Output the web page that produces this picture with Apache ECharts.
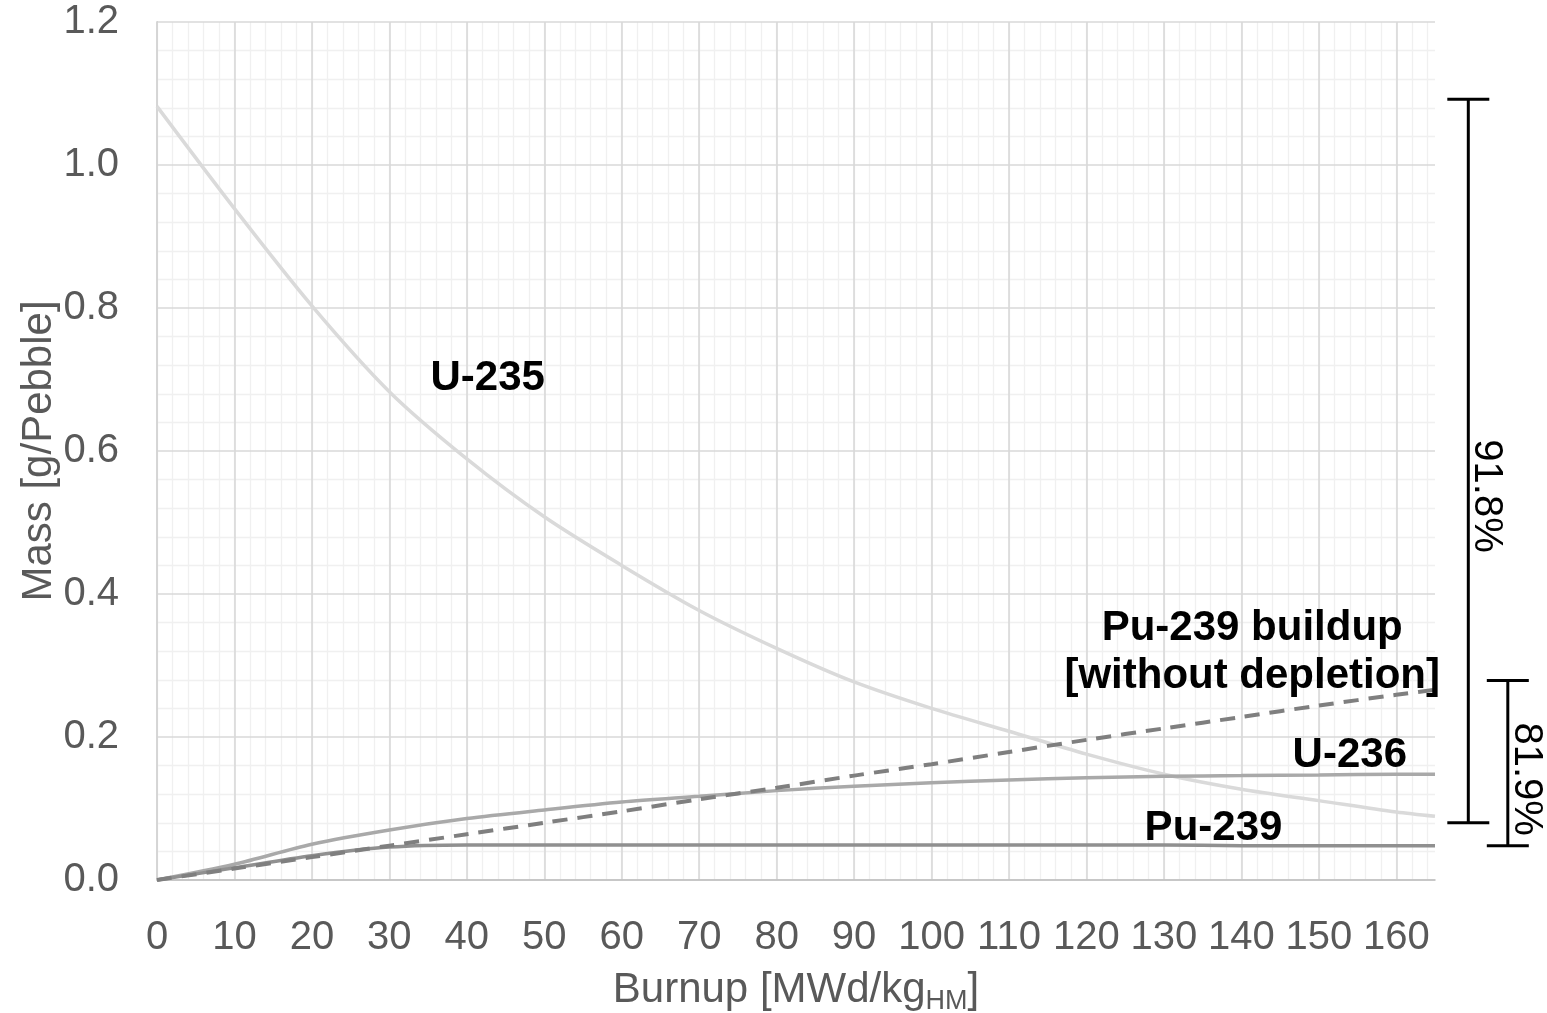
<!DOCTYPE html>
<html>
<head>
<meta charset="utf-8">
<script src="https://cdn.jsdelivr.net/npm/echarts@6/dist/echarts.min.js"></script>
<style>
  html, body { margin: 0; padding: 0; background: #fff; }
  #chart { width: 1547px; height: 1013px; }
</style>
</head>
<body>
<div id="chart"></div>
<script>
// 燃耗 [MWd/kgHM]
const burnup = [0, 10, 20, 30, 40, 50, 60, 70, 80, 90, 100, 110, 120, 130, 140, 150, 160, 165];
// 质量 [g/Pebble]
const u235 = [1.082, 0.939, 0.803, 0.683, 0.589, 0.508, 0.440, 0.377, 0.324, 0.277, 0.240, 0.208, 0.176, 0.148, 0.127, 0.111, 0.095, 0.089];
const u236 = [0, 0.022, 0.050, 0.070, 0.086, 0.098, 0.109, 0.117, 0.125, 0.131, 0.136, 0.140, 0.143, 0.145, 0.146, 0.147, 0.148, 0.148];
const pu239 = [0, 0.017, 0.034, 0.046, 0.049, 0.049, 0.049, 0.049, 0.049, 0.049, 0.049, 0.049, 0.049, 0.049, 0.048, 0.048, 0.048, 0.048];
const pu239Buildup = [0, 0.016, 0.032, 0.048, 0.064, 0.080, 0.096, 0.113, 0.129, 0.146, 0.162, 0.179, 0.196, 0.212, 0.228, 0.244, 0.259, 0.266];

// 曲线标注
const noteText = ['U-235', 'Pu-239 buildup', '[without depletion]', 'U-236', 'Pu-239'];
const noteX = [42.7, 141.4, 141.4, 154.0, 136.4];
const noteY = [0.702, 0.352, 0.285, 0.174, 0.072];

// 右侧括号 (减少百分比)
const bracketText = ['91.8%', '81.9%'];
const bracketX = [169.3, 174.4];
const bracketTop = [1.092, 0.279];
const bracketBottom = [0.080, 0.048];
const bracketLabelY = [0.537, 0.141];

const FONT = "'Liberation Sans', Arial, sans-serif";
const pairs = (ys) => burnup.map((x, i) => [x, ys[i]]);

const chart = echarts.init(document.getElementById('chart'));

const lineSeries = (name, ys, color, type, width) => ({
    name,
    type: 'line',
    data: pairs(ys),
    smooth: 0.3,
    showSymbol: false,
    symbol: 'none',
    silent: true,
    lineStyle: { color, width: width || 3.5, type: type || 'solid' }
});

const option = {
    animation: false,
    backgroundColor: '#fff',
    grid: {
        left: 157,
        right: 112,
        top: 22,
        bottom: 133,
        containLabel: false,
        outerBoundsMode: 'none'
    },
    xAxis: [
        {
            type: 'value',
            min: 0,
            max: 165,
            interval: 10,
            z: 1.5,
            axisLine: { show: true, onZero: false, lineStyle: { color: '#bfbfbf', width: 1.6 } },
            axisTick: { show: false },
            axisLabel: { color: '#595959', fontSize: 40, fontFamily: FONT, margin: 38, showMaxLabel: false },
            splitLine: { show: true, showMaxLine: false, lineStyle: { color: '#d9d9d9', width: 1.6 } },
            name: 'Burnup [MWd/kg{sub|HM}]',
            nameLocation: 'middle',
            nameGap: 86,
            nameTextStyle: {
                color: '#595959',
                fontSize: 42,
                fontFamily: FONT,
                rich: {
                    sub: { fontSize: 27, fontFamily: FONT, color: '#595959', verticalAlign: 'bottom', padding: [22, 0, 0, 0] }
                }
            }
        },
        {
            // 次网格线
            type: 'value',
            min: 0,
            max: 165,
            interval: 2,
            position: 'bottom',
            z: 0,
            axisLine: { show: false },
            axisTick: { show: false },
            axisLabel: { show: false },
            splitLine: { show: true, showMaxLine: false, lineStyle: { color: '#f0f0f0', width: 1.3 } }
        }
    ],
    yAxis: {
        type: 'value',
        min: 0,
        max: 1.2,
        interval: 0.2,
        z: 1,
        axisLine: { show: true, lineStyle: { color: '#bfbfbf', width: 1.6 } },
        axisTick: { show: false },
        axisLabel: {
            color: '#595959',
            fontSize: 40,
            fontFamily: FONT,
            margin: 38,
            formatter: (v) => v.toFixed(1)
        },
        splitLine: { show: true, lineStyle: { color: '#d9d9d9', width: 1.6 } },
        minorTick: { show: false, splitNumber: 5 },
        minorSplitLine: { show: true, lineStyle: { color: '#f0f0f0', width: 1.3 } },
        name: 'Mass [g/Pebble]',
        nameLocation: 'middle',
        nameRotate: 90,
        nameGap: 97,
        nameMoveOverlap: false,
        nameTextStyle: { color: '#595959', fontSize: 42, fontFamily: FONT }
    },
    series: [
        lineSeries('U-235', u235, '#dadada'),
        lineSeries('U-236', u236, '#a9a9a9'),
        lineSeries('Pu-239', pu239, '#909090'),
        lineSeries('Pu-239 buildup', pu239Buildup, '#7f7f7f', [15, 10], 4),
        {
            // 曲线名称
            type: 'custom',
            silent: true,
            clip: false,
            z: 5,
            data: noteX.map((x, i) => [x, noteY[i], i]),
            renderItem: (params, api) => {
                const p = api.coord([api.value(0), api.value(1)]);
                return {
                    type: 'text',
                    x: p[0],
                    y: p[1],
                    style: {
                        text: noteText[api.value(2)],
                        fill: '#000',
                        fontSize: 42,
                        fontWeight: 'bold',
                        fontFamily: FONT,
                        align: 'center',
                        verticalAlign: 'middle'
                    }
                };
            }
        },
        {
            type: 'custom',
            silent: true,
            clip: false,
            z: 5,
            data: bracketX.map((x, i) => [x, bracketTop[i], bracketBottom[i], bracketLabelY[i], i]),
            renderItem: (params, api) => {
                const top = api.coord([api.value(0), api.value(1)]);
                const bot = api.coord([api.value(0), api.value(2)]);
                const lab = api.coord([api.value(0), api.value(3)]);
                const i = api.value(4);
                const half = 21;
                const style = { stroke: '#000', lineWidth: 3 };
                return {
                    type: 'group',
                    children: [
                        { type: 'line', shape: { x1: top[0], y1: top[1], x2: bot[0], y2: bot[1] }, style },
                        { type: 'line', shape: { x1: top[0] - half, y1: top[1], x2: top[0] + half, y2: top[1] }, style },
                        { type: 'line', shape: { x1: bot[0] - half, y1: bot[1], x2: bot[0] + half, y2: bot[1] }, style },
                        {
                            type: 'text',
                            x: lab[0] + 18,
                            y: lab[1],
                            rotation: -Math.PI / 2,
                            style: {
                                text: bracketText[i],
                                fill: '#000',
                                fontSize: 40,
                                fontFamily: FONT,
                                align: 'center',
                                verticalAlign: 'middle'
                            }
                        }
                    ]
                };
            }
        }
    ]
};

chart.setOption(option);
</script>
</body>
</html>
